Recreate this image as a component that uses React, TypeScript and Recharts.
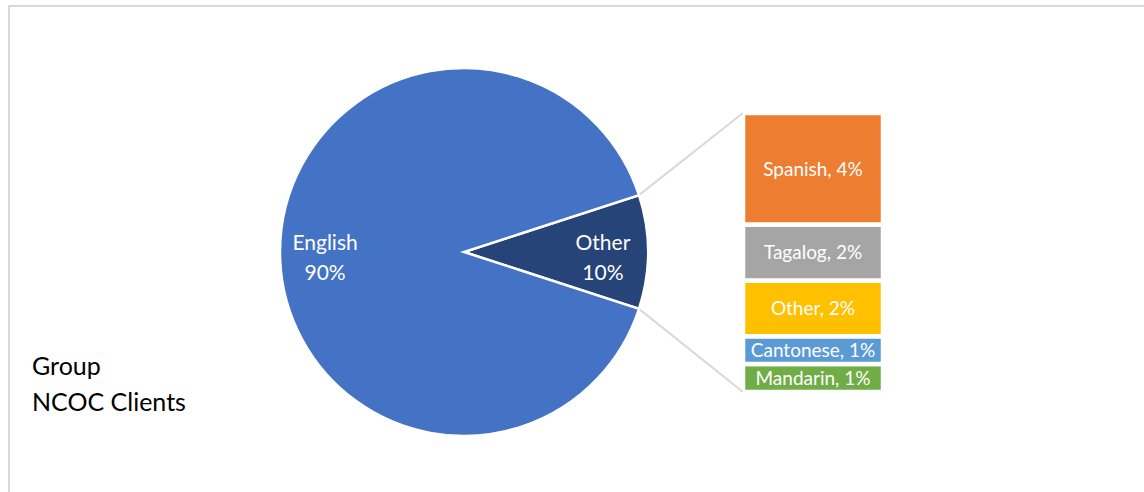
import { PieChart, Pie, Cell, BarChart, Bar, XAxis, YAxis, LabelList } from "recharts";

const pieNames = ["Other", "English"];
const pieValues = [10, 90];
const pieColors = ["#264478", "#4472C4"];

// bar stack, listed top to bottom as in the picture
const barNames = ["Spanish", "Tagalog", "Other", "Cantonese", "Mandarin"];
const barValues = [4, 2, 2, 1, 1];
const barColors = ["#ED7D31", "#A5A5A5", "#FFC000", "#5B9BD5", "#70AD47"];

const titleLines = ["Group", "NCOC Clients"];

const FONT = "Lato, 'Open Sans', sans-serif";
const W = 1134;
const H = 485;
const PIE_CX = 454;
const PIE_CY = 245;
const PIE_R = 184;
const BAR_LEFT = 733;
const BAR_TOP = 106;
const BAR_W = 140;
const BAR_H = 279;

const RAD = Math.PI / 180;
const otherHalf = (pieValues[0] / pieValues.reduce((a, b) => a + b, 0)) * 180;

const pieData = pieNames.map((name, i) => ({ name, value: pieValues[i] }));
const barRow: Record<string, number | string> = { name: "Other" };
barNames.forEach((n, i) => (barRow[n] = barValues[i]));
const barData = [barRow];

const renderPieLabel = (props: any) => {
  const { cx, cy, midAngle, outerRadius, name, value } = props;
  const r = outerRadius * 0.755;
  const x = cx + r * Math.cos(-midAngle * RAD);
  const y = cy + r * Math.sin(-midAngle * RAD) + 4;
  return (
    <text
      x={x}
      y={y}
      fill="#fff"
      textAnchor="middle"
      dominantBaseline="central"
      fontSize={21}
      fontFamily={FONT}
    >
      <tspan x={x} y={y - 15}>
        {name}
      </tspan>
      <tspan x={x} y={y + 15}>
        {value}%
      </tspan>
    </text>
  );
};

export default function App() {
  const ax = PIE_CX + PIE_R * Math.cos(otherHalf * RAD);
  const ayTop = PIE_CY - PIE_R * Math.sin(otherHalf * RAD);
  const ayBottom = PIE_CY + PIE_R * Math.sin(otherHalf * RAD);

  // stacked bars go bottom-up, so reverse the top-to-bottom order
  const stackOrder = barNames.map((_, i) => i).reverse();

  return (
    <div
      style={{
        position: "fixed",
        left: 8,
        top: 5,
        width: W,
        height: H,
        borderTop: "2px solid #d9d9d9",
        borderLeft: "2px solid #d9d9d9",
        fontFamily: FONT,
        background: "#fff",
        overflow: "hidden",
      }}
    >
      <svg width={W} height={H} style={{ position: "absolute", left: 0, top: 0 }}>
        <line x1={ax} y1={ayTop} x2={BAR_LEFT} y2={BAR_TOP} stroke="#d9d9d9" strokeWidth={2} />
        <line x1={ax} y1={ayBottom} x2={BAR_LEFT} y2={BAR_TOP + BAR_H} stroke="#d9d9d9" strokeWidth={2} />
      </svg>

      <div style={{ position: "absolute", left: 0, top: 0 }}>
        <PieChart width={W} height={H} margin={{ top: 0, right: 0, bottom: 0, left: 0 }}>
          <Pie
            data={pieData}
            dataKey="value"
            nameKey="name"
            cx={PIE_CX}
            cy={PIE_CY}
            outerRadius={PIE_R}
            startAngle={-otherHalf}
            endAngle={360 - otherHalf}
            stroke="#fff"
            strokeWidth={2.5}
            label={renderPieLabel}
            labelLine={false}
            isAnimationActive={false}
          >
            {pieData.map((d, i) => (
              <Cell key={d.name} fill={pieColors[i]} />
            ))}
          </Pie>
        </PieChart>
      </div>

      <div style={{ position: "absolute", left: BAR_LEFT, top: BAR_TOP }}>
        <BarChart
          width={BAR_W}
          height={BAR_H}
          data={barData}
          margin={{ top: 0, right: 0, bottom: 0, left: 0 }}
          barCategoryGap={0}
        >
          <XAxis dataKey="name" hide />
          <YAxis type="number" domain={[0, 10]} hide />
          {stackOrder.map((i) => (
            <Bar
              key={barNames[i]}
              dataKey={barNames[i]}
              stackId="a"
              fill={barColors[i]}
              stroke="#fff"
              strokeWidth={4.5}
              isAnimationActive={false}
            >
              <LabelList
                dataKey={barNames[i]}
                position="center"
                fill="#fff"
                stroke="none"
                fontSize={19}
                fontFamily={FONT}
                formatter={(v: any) => `${barNames[i]}, ${v}%`}
              />
            </Bar>
          ))}
        </BarChart>
      </div>

      <div
        style={{
          position: "absolute",
          left: 22,
          top: 340,
          fontSize: 25,
          lineHeight: "36px",
          color: "#000",
        }}
      >
        {titleLines.map((t) => (
          <div key={t}>{t}</div>
        ))}
      </div>
    </div>
  );
}
